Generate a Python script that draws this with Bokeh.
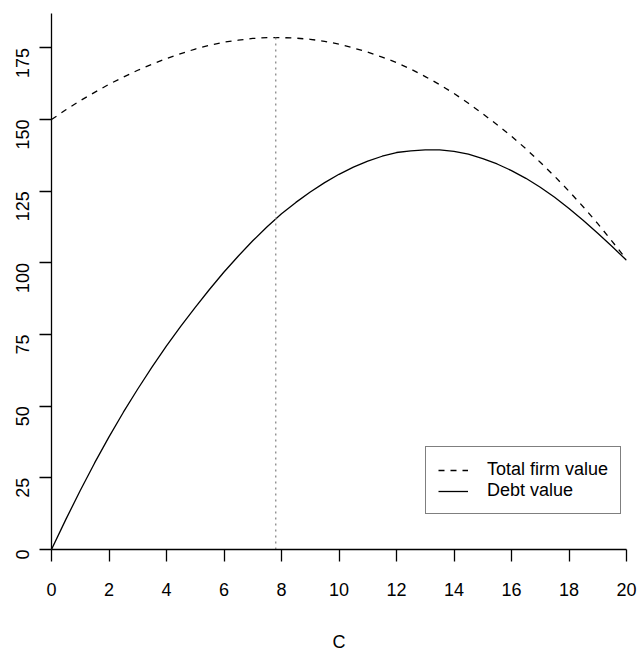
import math

from bokeh.embed import file_html
from bokeh.models import FixedTicker, Legend, LegendItem, Range1d
from bokeh.plotting import figure
from bokeh.resources import INLINE

# Coupon level C and the resulting values
coupon = [0, 0.5, 1, 1.5, 2, 2.5, 3, 3.5, 4, 4.5, 5, 5.5, 6, 6.5, 7, 7.5, 8, 8.5, 9, 9.5, 10,
          10.5, 11, 11.5, 12, 12.5, 13, 13.5, 14, 14.5, 15, 15.5, 16, 16.5, 17, 17.5, 18,
          18.5, 19, 19.5, 20]
firm_value = [150.0, 153.4, 156.6, 159.5, 162.3, 164.8, 167.2, 169.3, 171.3, 173.0, 174.6,
              175.9, 177.0, 177.7, 178.3, 178.6, 178.6, 178.4, 178.0, 177.3, 176.3,
              175.0, 173.5, 171.8, 169.9, 167.6, 165.0, 162.2, 159.1, 155.7, 152.0,
              148.2, 144.2, 139.8, 135.1, 130.2, 125.0, 119.5, 113.7, 107.5, 101.2]
debt_value = [0.0, 10.5, 20.6, 30.2, 39.3, 47.9, 56.0, 63.7, 71.0, 77.9, 84.5,
              90.8, 96.8, 102.4, 107.7, 112.6, 117.1, 121.1, 124.7, 128.0, 130.9,
              133.4, 135.5, 137.2, 138.5, 139.1, 139.4, 139.4, 138.9, 137.9, 136.4,
              134.5, 132.2, 129.5, 126.4, 122.9, 119.0, 114.8, 110.3, 105.7, 100.9]

# Coupon that maximises total firm value, and that maximum
c_opt = 7.8
v_max = 178.6

x_ticks = [0, 2, 4, 6, 8, 10, 12, 14, 16, 18, 20]
y_ticks = [0, 25, 50, 75, 100, 125, 150, 175]

FONT = "Liberation Sans"
FS = "18px"

p = figure(width=638, height=655, output_backend="svg", toolbar_location=None,
           x_range=Range1d(0, 20), y_range=Range1d(0, 187),
           min_border_left=51, min_border_right=12, min_border_top=13,
           min_border_bottom=106)
p.outline_line_color = None
p.grid.visible = False
p.background_fill_color = "white"
p.border_fill_color = "white"

for ax in (p.xaxis[0], p.yaxis[0]):
    ax.axis_line_color = "black"
    ax.axis_line_width = 1.3
    ax.major_tick_line_color = "black"
    ax.major_tick_line_width = 1.3
    ax.major_tick_out = 12
    ax.major_tick_in = 0
    ax.minor_tick_line_color = None
    ax.major_label_text_font = FONT
    ax.major_label_text_font_size = FS
    ax.major_label_text_color = "black"

p.xaxis.ticker = FixedTicker(ticks=x_ticks)
p.yaxis.ticker = FixedTicker(ticks=y_ticks)
p.xaxis.major_label_standoff = 21
p.yaxis.major_label_standoff = 17
p.yaxis.major_label_orientation = math.pi / 2

p.xaxis.axis_label = "C"
p.xaxis.axis_label_text_font = FONT
p.xaxis.axis_label_text_font_size = FS
p.xaxis.axis_label_text_font_style = "normal"
p.xaxis.axis_label_text_color = "black"
p.xaxis.axis_label_standoff = 33

r_firm = p.line(coupon, firm_value, line_color="black", line_width=1.3, line_dash="6 6")
r_debt = p.line(coupon, debt_value, line_color="black", line_width=1.3)
p.segment(x0=[c_opt], y0=[0], x1=[c_opt], y1=[v_max],
          line_color="#888888", line_width=1.3, line_dash="2 4")

legend = Legend(items=[LegendItem(label="Total firm value", renderers=[r_firm]),
                       LegendItem(label="Debt value", renderers=[r_debt])],
                location=(374, 35), orientation="vertical",
                border_line_color="black", border_line_width=1.3,
                background_fill_color="white", background_fill_alpha=1.0,
                padding=12, margin=0, spacing=0,
                glyph_width=30, glyph_height=20, label_height=20,
                label_standoff=19,
                label_text_font=FONT, label_text_font_size=FS,
                label_text_color="black")
p.add_layout(legend, "center")

open("out.html", "w").write(file_html(p, INLINE))
